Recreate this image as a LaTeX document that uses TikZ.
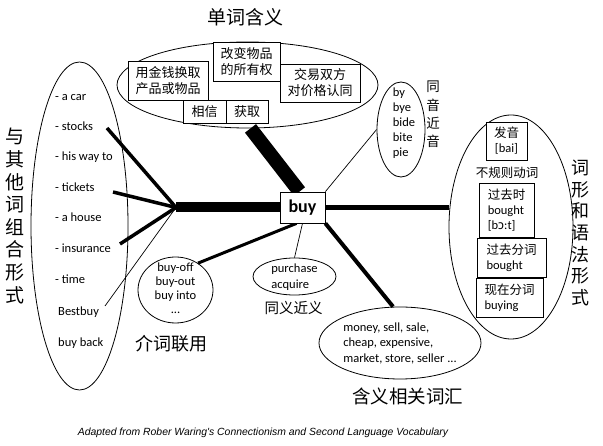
\documentclass[tikz,border=0pt]{standalone}
\usepackage{fontspec}
\setmainfont{Carlito}
\newfontfamily\cjk{Noto Sans CJK SC}
\newfontfamily\capfont{Liberation Sans}
\newfontfamily\ipafont{Noto Sans}
\usetikzlibrary{shapes.geometric}
\begin{document}
\begin{tikzpicture}[x=1pt,y=-1pt,
  ell/.style={draw, ellipse, line width=0.8pt, inner sep=0pt},
  boxn/.style={draw, line width=0.6pt, inner sep=1pt, fill=white},
  en/.style={inner sep=0pt, font=\fontsize{12.5}{15}\selectfont},
  zh/.style={inner sep=0pt, font=\cjk\fontsize{13}{16}\selectfont},
  zhbox/.style={boxn, align=center, font=\cjk\fontsize{13}{16}\selectfont},
  rbox/.style={boxn, align=left, font=\fontsize{12.5}{15}\selectfont},
  title/.style={inner sep=0pt, font=\cjk\fontsize{18.5}{22}\selectfont},
  thin/.style={line width=0.7pt},
  mid/.style={line width=3.5pt}]
\useasboundingbox (0,0) rectangle (603,446);

% ellipses
\node[ell, minimum width=261pt, minimum height=86pt] (topE) at (247.5,85) {};
\node[ell, minimum width=97pt, minimum height=328pt] (leftE) at (79.5,226) {};
\node[ell, minimum width=124pt, minimum height=224pt] (rightE) at (511,227) {};
\node[ell, minimum width=75pt, minimum height=66pt] (bo) at (175.5,290) {};
\node[ell, minimum width=83pt, minimum height=37pt] (syn) at (294.5,276.5) {};
\node[ell, minimum width=162pt, minimum height=72pt] (money) at (400,343) {};
\node[ell, minimum width=48pt, minimum height=95pt] (hom) at (401,129.5) {};

% central box (placed first so connectors can refer to it)
\node[draw, line width=0.8pt, fill=white, minimum width=45pt, minimum height=31pt,
      inner sep=0pt, font=\bfseries\fontsize{18}{20}\selectfont] (buy) at (302.5,207.5) {buy};

% titles
\node[title, font=\cjk\fontsize{19}{22}\selectfont] (t1) at (245,17.5) {单词含义};
\node[title, font=\cjk\fontsize{18}{22}\selectfont] (t2) at (171.5,344) {介词联用};
\node[title, font=\cjk\fontsize{14.5}{18}\selectfont] (t3) at (293.5,308) {同义近义};
\node[title] (t4) at (407.5,396) {含义相关词汇};
\node[inner sep=0pt, align=center, font=\cjk\fontsize{19}{22.6}\selectfont] (t5) at (15,216) {与\\其\\他\\词\\组\\合\\形\\式};
\node[inner sep=0pt, align=center, font=\cjk\fontsize{18}{21.7}\selectfont] (t6) at (580,233) {词\\形\\和\\语\\法\\形\\式};
\node[inner sep=0pt, align=center, font=\cjk\fontsize{13.5}{18.3}\selectfont] (t7) at (433,114.5) {同\\音\\近\\音};

% left list
\node[en, anchor=base west] (l1) at (55,101) {- a car};
\node[en, anchor=base west] (l2) at (55,131) {- stocks};
\node[en, anchor=base west] (l3) at (55,161) {- his way to};
\node[en, anchor=base west] (l4) at (55,192) {- tickets};
\node[en, anchor=base west] (l5) at (55,222) {- a house};
\node[en, anchor=base west] (l6) at (55,253) {- insurance};
\node[en, anchor=base west] (l7) at (55,284) {- time};
\node[en, anchor=base west] (l8) at (58,316) {Bestbuy};
\node[en, anchor=base west] (l9) at (58,347) {buy back};

% connectors
\coordinate (fan) at (176,207.5);
\coordinate (e2) at (107,128);
\coordinate (e4) at (113,192);
\coordinate (e6) at (120,244);
\coordinate (e8) at (105,306);
\draw[line width=14pt] ([xshift=3pt]topE.south) -- ([xshift=-3pt]buy.north);
\draw[line width=10pt] (fan) -- (fan -| buy.west);
\draw[mid] (fan) -- (e2);
\draw[mid] (fan) -- (e4);
\draw[mid] (fan) -- (e6);
\draw[thin] (fan) -- (e8);
\draw[line width=3pt] ([xshift=-6pt]buy.south) -- (bo.50);
\draw[thin] (buy.south) -- (syn.north);
\draw[line width=4pt] (buy.south east) -- ([xshift=-7pt]money.north);
\draw[line width=4.5pt] (buy.east) -- (buy.east -| rightE.west);
\draw[thin] (buy.north east) -- (hom.west);
% redraw central box on top
\node[draw, line width=0.8pt, fill=white, minimum width=45pt, minimum height=31pt,
      inner sep=0pt, font=\bfseries\fontsize{18}{20}\selectfont] at (buy) {buy};

% top ellipse boxes
\node[zhbox, minimum width=80pt, minimum height=39pt] (b1) at (168,80.5) {用金钱换取\\产品或物品};
\node[zhbox, minimum width=67pt, minimum height=39pt] (b2) at (246.5,61.5) {改变物品\\的所有权};
\node[zhbox, minimum width=80pt, minimum height=38pt] (b3) at (320,83) {交易双方\\对价格认同};
\node[zhbox, minimum width=43pt, minimum height=23pt] (b4) at (204.5,111.5) {相信};
\node[zhbox, minimum width=42pt, minimum height=23pt] (b5) at (247,111.5) {获取};

% right ellipse boxes
\node[rbox, align=center, minimum width=41pt, minimum height=38pt] (r1) at (506.5,141) {{\cjk 发音}\\{}[bai]};
\node[zh, font=\cjk\fontsize{12.5}{15}\selectfont] (irr) at (507,173) {不规则动词};
\node[rbox, minimum width=55pt, minimum height=54pt] (r2) at (506.5,210) {{\cjk 过去时}\\bought\\{}[b{\ipafont ɔ}:t]};
\node[rbox, minimum width=69pt, minimum height=39pt] (r3) at (511.5,257.5) {{\cjk 过去分词}\\bought};
\node[rbox, minimum width=67pt, minimum height=39pt] (r4) at (509.5,297.5) {{\cjk 现在分词}\\buying};

% ellipse texts
\node[en, align=left] (homt) at (404,123.5) {by\\bye\\bide\\bite\\pie};
\node[en, align=center, font=\fontsize{12.5}{14}\selectfont] (bot) at (175.5,288) {buy-off\\buy-out\\buy into\\...};
\node[en, align=left, font=\fontsize{12.5}{16}\selectfont] (synt) at (294.5,277) {purchase\\acquire};
\node[en, align=left, font=\fontsize{12.5}{15.5}\selectfont] (mont) at (400,343) {money, sell, sale,\\cheap, expensive,\\market, store, seller ...};

% caption
\node[inner sep=0pt, font=\capfont\itshape\fontsize{10.4}{12}\selectfont] (cap) at (263,433) {Adapted from Rober Waring's Connectionism and Second Language Vocabulary};
\end{tikzpicture}
\end{document}
